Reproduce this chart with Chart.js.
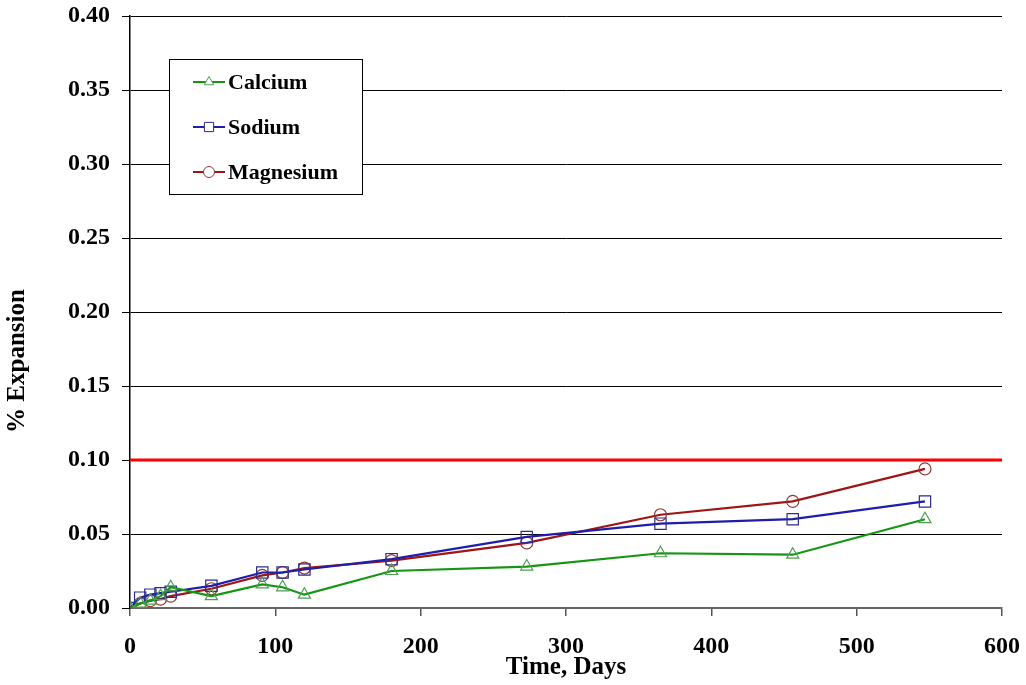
<!DOCTYPE html>
<html lang="en">
<head>
    <meta charset="UTF-8">
    <title>% Expansion vs Time</title>
    <script src="https://cdn.jsdelivr.net/npm/chart.js"></script>
    <style>
        html, body { margin: 0; padding: 0; background: #fff; }
        #wrap { width: 1026px; height: 685px; position: relative; }
    </style>
</head>
<body>
    <div id="wrap"><canvas id="expChart" width="1026" height="685"></canvas></div>

    <script>
        // measurement ages (days)
        const days = [0, 7, 14, 21, 28, 56, 91, 105, 120, 180, 273, 365, 456, 547];

        // % expansion for each sulfate solution
        const calcium   = [0.000, 0.003, 0.005, 0.008, 0.014, 0.008, 0.016, 0.014, 0.009, 0.025, 0.028, 0.037, 0.036, 0.060];
        const sodium    = [0.000, 0.007, 0.009, 0.010, 0.011, 0.015, 0.024, 0.024, 0.026, 0.033, 0.048, 0.057, 0.060, 0.072];
        const magnesium = [0.000, 0.003, 0.005, 0.006, 0.008, 0.013, 0.022, 0.024, 0.027, 0.032, 0.044, 0.063, 0.072, 0.094];

        // 0.10 % expansion limit line
        const limitDays = [0, 600];
        const limitValues = [0.10, 0.10];

        const xTicks = [0, 100, 200, 300, 400, 500, 600];
        const yTicks = [0.00, 0.05, 0.10, 0.15, 0.20, 0.25, 0.30, 0.35, 0.40];

        const serif = '"Liberation Serif", "Times New Roman", serif';

        function pairs(xs, ys) {
            return xs.map((x, i) => ({ x: x, y: ys[i] }));
        }

        // boxed legend in the upper left of the plot
        const boxLegend = {
            id: 'boxLegend',
            afterDraw(chart) {
                const ctx = chart.ctx;
                const x0 = 169, y0 = 59, w = 193, h = 135;
                ctx.save();
                ctx.fillStyle = '#fff';
                ctx.fillRect(x0, y0, w, h);
                ctx.strokeStyle = '#000';
                ctx.lineWidth = 1;
                ctx.strokeRect(x0 + 0.5, y0 + 0.5, w, h);

                const rows = [82, 127, 172];
                chart.data.datasets.slice(0, 3).forEach((ds, i) => {
                    const y = rows[i];
                    ctx.strokeStyle = ds.borderColor;
                    ctx.lineWidth = 2;
                    ctx.beginPath();
                    ctx.moveTo(193, y);
                    ctx.lineTo(225, y);
                    ctx.stroke();

                    ctx.strokeStyle = ds.pointBorderColor;
                    ctx.fillStyle = '#fff';
                    ctx.lineWidth = 1;
                    Chart.helpers.drawPoint(ctx, {
                        pointStyle: ds.pointStyle,
                        radius: ds.pointStyle === 'rect' ? 6.5 : 5.5,
                        rotation: 0,
                        borderWidth: 1
                    }, 209, y);

                    ctx.fillStyle = '#000';
                    ctx.font = 'bold 22px ' + serif;
                    ctx.textAlign = 'left';
                    ctx.textBaseline = 'middle';
                    ctx.fillText(ds.label, 228, y + 1);
                });
                ctx.restore();
            }
        };

        // rotated y-axis title
        const yTitle = {
            id: 'yTitle',
            afterDraw(chart) {
                const ctx = chart.ctx;
                ctx.save();
                ctx.translate(18, 361);
                ctx.rotate(-Math.PI / 2);
                ctx.font = 'bold 25px ' + serif;
                ctx.fillStyle = '#000';
                ctx.textAlign = 'center';
                ctx.textBaseline = 'middle';
                ctx.fillText('% Expansion', 0, 0);
                ctx.restore();
            }
        };

        const ctx = document.getElementById('expChart').getContext('2d');
        new Chart(ctx, {
            type: 'line',
            data: {
                datasets: [
                    {
                        label: 'Calcium',
                        data: pairs(days, calcium),
                        borderColor: 'rgb(20,150,20)',
                        borderWidth: 2.2,
                        pointStyle: 'triangle',
                        pointRadius: 7,
                        pointBorderColor: 'rgb(80,160,80)',
                        pointBackgroundColor: 'rgba(255,255,255,0)',
                        pointBorderWidth: 1.2,
                        tension: 0
                    },
                    {
                        label: 'Sodium',
                        data: pairs(days, sodium),
                        borderColor: 'rgb(30,30,170)',
                        borderWidth: 2.2,
                        pointStyle: 'rect',
                        pointRadius: 8,
                        pointBorderColor: 'rgb(45,45,140)',
                        pointBackgroundColor: 'rgba(255,255,255,0)',
                        pointBorderWidth: 1.2,
                        tension: 0
                    },
                    {
                        label: 'Magnesium',
                        data: pairs(days, magnesium),
                        borderColor: 'rgb(160,20,20)',
                        borderWidth: 2.2,
                        pointStyle: 'circle',
                        pointRadius: 6,
                        pointBorderColor: 'rgb(150,55,55)',
                        pointBackgroundColor: 'rgba(255,255,255,0)',
                        pointBorderWidth: 1.2,
                        tension: 0
                    },
                    {
                        label: 'Limit',
                        data: pairs(limitDays, limitValues),
                        borderColor: 'rgb(255,0,0)',
                        borderWidth: 3,
                        pointRadius: 0
                    }
                ]
            },
            options: {
                responsive: false,
                animation: false,
                events: [],
                layout: { padding: { left: 0, top: 16, right: 24, bottom: 0 } },
                plugins: {
                    legend: { display: false },
                    tooltip: { enabled: false }
                },
                scales: {
                    x: {
                        type: 'linear',
                        min: 0,
                        max: 600,
                        afterBuildTicks: (scale) => { scale.ticks = xTicks.map(v => ({ value: v })); },
                        afterFit: (scale) => {
                            scale.height = 77;
                            scale.paddingLeft = 0;
                            scale.paddingRight = 0;
                        },
                        ticks: {
                            color: '#000',
                            font: { family: serif, size: 24, weight: 'bold' },
                            padding: 16,
                            maxRotation: 0
                        },
                        grid: {
                            drawOnChartArea: false,
                            drawTicks: true,
                            tickLength: 8,
                            color: '#555',
                            lineWidth: 1.5
                        },
                        border: { color: '#666', width: 2 },
                        title: {
                            display: true,
                            text: 'Time, Days',
                            color: '#000',
                            font: { family: serif, size: 25, weight: 'bold' },
                            padding: { top: 0, bottom: 2 }
                        }
                    },
                    y: {
                        min: 0,
                        max: 0.4,
                        afterBuildTicks: (scale) => { scale.ticks = yTicks.map(v => ({ value: v })); },
                        afterFit: (scale) => {
                            scale.width = 130;
                            scale.paddingTop = 0;
                            scale.paddingBottom = 0;
                        },
                        ticks: {
                            color: '#000',
                            font: { family: serif, size: 24, weight: 'bold' },
                            padding: 12,
                            callback: (v) => Number(v).toFixed(2)
                        },
                        grid: {
                            color: '#000',
                            lineWidth: 1,
                            tickLength: 8
                        },
                        border: { color: '#000', width: 1.5 }
                    }
                }
            },
            plugins: [boxLegend, yTitle]
        });
    </script>
</body>
</html>
